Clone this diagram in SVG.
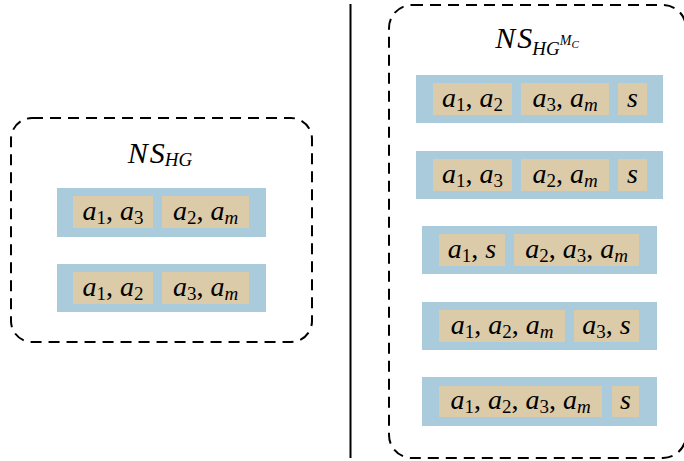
<svg xmlns="http://www.w3.org/2000/svg" width="684" height="461" viewBox="0 0 684 461">
<style>
.box{fill:none;stroke:#000;stroke-width:2;stroke-dasharray:11,7}
.row{fill:#a9cbdc}
.cell{fill:#dbcba9}
.t{font-family:"Liberation Serif","Times New Roman",serif;font-size:28px;fill:#000;text-anchor:middle}
.h{font-size:30px}
.i{font-style:italic}
.sb{font-size:19px}
.ss{font-size:14px}
</style>
<rect width="684" height="461" fill="#fff"/>
<g id="divider"><line x1="350.5" y1="4" x2="350.5" y2="458" stroke="#000" stroke-width="2"/></g>

<g id="ns-hg">
<rect class="box" x="11" y="118" width="301" height="224" rx="21"/>
<text class="t h" x="160" y="163"><tspan class="i">N</tspan><tspan class="i" dx="2">S</tspan><tspan class="i sb" dy="3" font-size="20">HG</tspan></text>
</g>
<g id="hg-row1">
<rect class="row" x="57" y="188" width="209" height="49"/>
<rect class="cell" x="73" y="196" width="80" height="32"/>
<rect class="cell" x="162" y="196" width="87" height="32"/>
<text class="t" x="113" y="220"><tspan class="i">a</tspan><tspan class="sb" dy="4">1</tspan><tspan dy="-4">, </tspan><tspan class="i">a</tspan><tspan class="sb" dy="4">3</tspan></text>
<text class="t" x="205.5" y="220"><tspan class="i">a</tspan><tspan class="sb" dy="4">2</tspan><tspan dy="-4">, </tspan><tspan class="i">a</tspan><tspan class="sb i" dy="4">m</tspan></text>
</g>
<g id="hg-row2">
<rect class="row" x="57" y="264" width="209" height="48"/>
<rect class="cell" x="73" y="272" width="80" height="32"/>
<rect class="cell" x="162" y="272" width="87" height="32"/>
<text class="t" x="113" y="296"><tspan class="i">a</tspan><tspan class="sb" dy="4">1</tspan><tspan dy="-4">, </tspan><tspan class="i">a</tspan><tspan class="sb" dy="4">2</tspan></text>
<text class="t" x="205.5" y="296"><tspan class="i">a</tspan><tspan class="sb" dy="4">3</tspan><tspan dy="-4">, </tspan><tspan class="i">a</tspan><tspan class="sb i" dy="4">m</tspan></text>
</g>

<g id="ns-hgmc">
<rect class="box" x="389" y="5" width="297" height="453" rx="23"/>
<text class="t h" x="537" y="48"><tspan class="i">N</tspan><tspan class="i" dx="2">S</tspan><tspan class="i sb" dy="7" font-size="20">HG</tspan><tspan class="i ss" dy="-10">M</tspan><tspan class="i" dy="3" font-size="11">C</tspan></text>
</g>
<g id="mc-row1">
<rect class="row" x="416" y="75" width="247" height="48"/>
<rect class="cell" x="433" y="83" width="79" height="32"/>
<rect class="cell" x="521" y="83" width="88" height="32"/>
<rect class="cell" x="618" y="83" width="29" height="32"/>
<text class="t" x="472.5" y="107"><tspan class="i">a</tspan><tspan class="sb" dy="4">1</tspan><tspan dy="-4">, </tspan><tspan class="i">a</tspan><tspan class="sb" dy="4">2</tspan></text>
<text class="t" x="565" y="107"><tspan class="i">a</tspan><tspan class="sb" dy="4">3</tspan><tspan dy="-4">, </tspan><tspan class="i">a</tspan><tspan class="sb i" dy="4">m</tspan></text>
<text class="t i" x="632.5" y="107">s</text>
</g>
<g id="mc-row2">
<rect class="row" x="416" y="151" width="247" height="48"/>
<rect class="cell" x="433" y="159" width="79" height="32"/>
<rect class="cell" x="521" y="159" width="88" height="32"/>
<rect class="cell" x="618" y="159" width="29" height="32"/>
<text class="t" x="472.5" y="183"><tspan class="i">a</tspan><tspan class="sb" dy="4">1</tspan><tspan dy="-4">, </tspan><tspan class="i">a</tspan><tspan class="sb" dy="4">3</tspan></text>
<text class="t" x="565" y="183"><tspan class="i">a</tspan><tspan class="sb" dy="4">2</tspan><tspan dy="-4">, </tspan><tspan class="i">a</tspan><tspan class="sb i" dy="4">m</tspan></text>
<text class="t i" x="632.5" y="183">s</text>
</g>
<g id="mc-row3">
<rect class="row" x="422" y="226" width="235" height="48"/>
<rect class="cell" x="439" y="234" width="66" height="32"/>
<rect class="cell" x="514" y="234" width="125" height="32"/>
<text class="t" x="472" y="258"><tspan class="i">a</tspan><tspan class="sb" dy="4">1</tspan><tspan dy="-4">, </tspan><tspan class="i">s</tspan></text>
<text class="t" x="576.5" y="258"><tspan class="i">a</tspan><tspan class="sb" dy="4">2</tspan><tspan dy="-4">, </tspan><tspan class="i">a</tspan><tspan class="sb" dy="4">3</tspan><tspan dy="-4">, </tspan><tspan class="i">a</tspan><tspan class="sb i" dy="4">m</tspan></text>
</g>
<g id="mc-row4">
<rect class="row" x="422" y="302" width="235" height="48"/>
<rect class="cell" x="439" y="310" width="126" height="32"/>
<rect class="cell" x="574" y="310" width="65" height="32"/>
<text class="t" x="502" y="334"><tspan class="i">a</tspan><tspan class="sb" dy="4">1</tspan><tspan dy="-4">, </tspan><tspan class="i">a</tspan><tspan class="sb" dy="4">2</tspan><tspan dy="-4">, </tspan><tspan class="i">a</tspan><tspan class="sb i" dy="4">m</tspan></text>
<text class="t" x="606.5" y="334"><tspan class="i">a</tspan><tspan class="sb" dy="4">3</tspan><tspan dy="-4">, </tspan><tspan class="i">s</tspan></text>
</g>
<g id="mc-row5">
<rect class="row" x="422" y="377" width="235" height="49"/>
<rect class="cell" x="439" y="386" width="163" height="31"/>
<rect class="cell" x="612" y="386" width="27" height="31"/>
<text class="t" x="520.5" y="409"><tspan class="i">a</tspan><tspan class="sb" dy="4">1</tspan><tspan dy="-4">, </tspan><tspan class="i">a</tspan><tspan class="sb" dy="4">2</tspan><tspan dy="-4">, </tspan><tspan class="i">a</tspan><tspan class="sb" dy="4">3</tspan><tspan dy="-4">, </tspan><tspan class="i">a</tspan><tspan class="sb i" dy="4">m</tspan></text>
<text class="t i" x="625.5" y="409">s</text>
</g>
</svg>
